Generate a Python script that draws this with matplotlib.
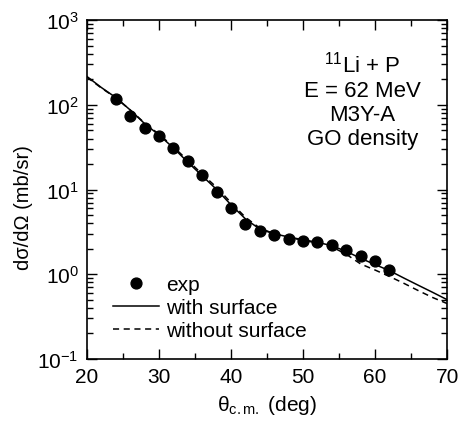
import matplotlib
matplotlib.use("Agg")
import matplotlib.pyplot as plt
from matplotlib.ticker import LogLocator, MultipleLocator, NullFormatter

plt.rcParams["font.family"] = ["Liberation Sans", "DejaVu Sans"]
plt.rcParams["mathtext.fontset"] = "custom"
plt.rcParams["mathtext.rm"] = "Liberation Sans"
plt.rcParams["mathtext.it"] = "Liberation Sans:italic"

# experimental data
exp_theta = [24, 26, 28, 30, 32, 34, 36, 38, 40, 42, 44, 46, 48, 50, 52, 54, 56, 58, 60, 62]
exp_xs = [117, 74, 53, 43, 31, 22, 14.8, 9.4, 6.05, 3.95, 3.2, 2.9, 2.6, 2.45, 2.38, 2.23,
          1.95, 1.66, 1.43, 1.13]

# calculations
calc_theta = [20, 22, 24, 26, 28, 30, 32, 34, 36, 38, 40, 42, 44, 46, 48, 50, 52, 54, 56,
              58, 60, 62, 64, 66, 68, 70]
with_surf = [216, 160, 122, 87, 60, 44, 31, 21, 14.5, 10.0, 6.6, 4.5, 3.4, 3.0, 2.75, 2.55,
             2.38, 2.17, 1.86, 1.54, 1.30, 1.10, 0.90, 0.74, 0.61, 0.50]
without_surf = [212, 158, 121, 87, 61, 45, 32, 22, 15.2, 10.6, 7.0, 4.7, 3.5, 3.0, 2.72, 2.52,
                2.33, 2.10, 1.72, 1.32, 1.12, 0.94, 0.78, 0.64, 0.53, 0.45]

fig = plt.figure(figsize=(4.6, 4.31), dpi=100)
ax = fig.add_axes([0.189, 0.165, 0.783, 0.786])

ax.plot(exp_theta, exp_xs, "o", color="black", markersize=7.8, label="exp")
ax.plot(calc_theta, with_surf, "-", color="black", lw=1.1, label="with surface")
ax.plot(calc_theta, without_surf, "--", color="black", lw=1.1, dashes=(4, 3),
        label="without surface")

ax.set_yscale("log")
ax.set_xlim(20, 70)
ax.set_ylim(0.1, 1000)
ax.xaxis.set_major_locator(MultipleLocator(10))
ax.xaxis.set_minor_locator(MultipleLocator(5))
ax.yaxis.set_major_locator(LogLocator(base=10))
ax.yaxis.set_minor_locator(LogLocator(base=10, subs=range(2, 10)))
ax.yaxis.set_minor_formatter(NullFormatter())
ax.tick_params(which="both", direction="in", top=True, right=True, labelsize=15, width=1)
ax.tick_params(which="major", length=7, pad=6)
ax.tick_params(which="minor", length=4)
for s in ax.spines.values():
    s.set_linewidth(1.2)

ax.set_xlabel("θ$_{\\rm c.m.}$ (deg)", fontsize=15, labelpad=5)
ax.set_ylabel("dσ/dΩ (mb/sr)", fontsize=14.5)
ax.yaxis.set_label_coords(-0.15, 0.45)

ax.text(0.765, 0.91, "$^{11}$Li + P\nE = 62 MeV\nM3Y-A\nGO density",
        transform=ax.transAxes, ha="center", va="top", fontsize=16, linespacing=1.2)

ax.legend(loc="lower left", bbox_to_anchor=(0.02, 0.0), frameon=False, fontsize=15,
          handlelength=2.2, handletextpad=0.35, labelspacing=0.2)

fig.savefig("out.png", dpi=100)
